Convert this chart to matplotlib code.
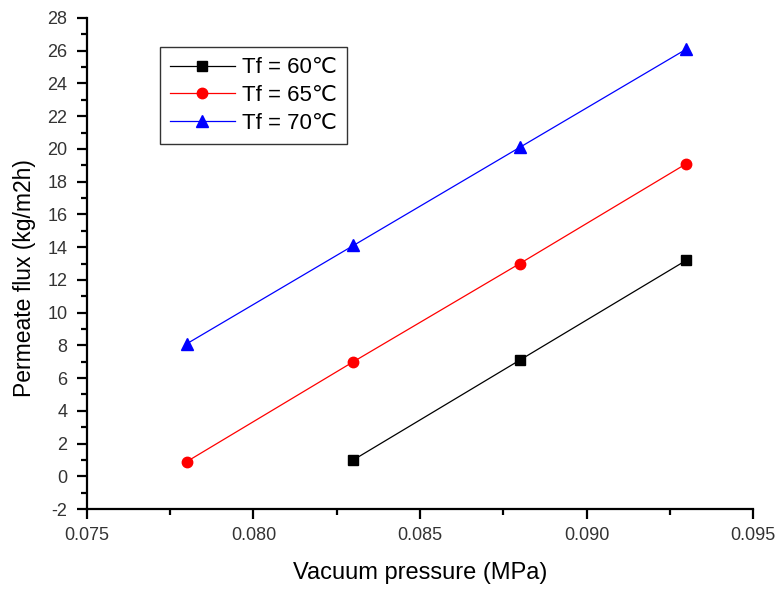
import matplotlib
matplotlib.use('Agg')
import matplotlib.pyplot as plt
from matplotlib.ticker import MultipleLocator, AutoMinorLocator

plt.rcParams['font.family'] = ['Liberation Sans', 'DejaVu Sans']
plt.rcParams['axes.unicode_minus'] = False

pressure = [0.078, 0.083, 0.088, 0.093]
flux_60 = [None, 1.0, 7.1, 13.2]
flux_65 = [0.9, 7.0, 13.0, 19.1]
flux_70 = [8.1, 14.1, 20.1, 26.1]
labels = ['Tf = 60℃', 'Tf = 65℃', 'Tf = 70℃']

fig = plt.figure(figsize=(7.81, 5.92), dpi=100)
ax = fig.add_axes([87 / 781, 1 - 509 / 592, 666 / 781, 491 / 592])

ax.plot(pressure[1:], flux_60[1:], color='black', marker='s', markersize=7, linewidth=0.9, label=labels[0])
ax.plot(pressure, flux_65, color='red', marker='o', markersize=7.5, linewidth=0.9, label=labels[1])
ax.plot(pressure, flux_70, color='blue', marker='^', markersize=8.5, linewidth=0.9, label=labels[2])

ax.set_xlim(0.075, 0.095)
ax.set_ylim(-2, 28)
ax.xaxis.set_major_locator(MultipleLocator(0.005))
ax.xaxis.set_minor_locator(AutoMinorLocator(2))
ax.yaxis.set_major_locator(MultipleLocator(2))
ax.yaxis.set_minor_locator(AutoMinorLocator(2))
ax.xaxis.set_major_formatter(plt.FormatStrFormatter('%.3f'))

for s in ['top', 'right']:
    ax.spines[s].set_visible(False)
for s in ['left', 'bottom']:
    ax.spines[s].set_linewidth(1.6)

ax.tick_params(which='major', direction='out', length=7, width=1.6, labelsize=13,
               colors='black', labelcolor='#333333')
ax.tick_params(axis='y', which='major', pad=7)
ax.tick_params(axis='x', which='major', pad=6)
ax.tick_params(which='minor', direction='out', length=4, width=1.6)

ax.set_xlabel('Vacuum pressure (MPa)', fontsize=17, labelpad=13)
ax.set_ylabel('Permeate flux (kg/m2h)', fontsize=16.5)
ax.yaxis.set_label_coords(-0.076, 0.47)

leg = ax.legend(loc='upper left', bbox_to_anchor=(0.11, 0.94), fontsize=16, frameon=True,
                fancybox=False, edgecolor='black', handlelength=2.9, borderpad=0.45,
                labelspacing=0.3, handletextpad=0.35, borderaxespad=0)
leg.get_frame().set_linewidth(1.0)

plt.savefig('out.png', dpi=100)
